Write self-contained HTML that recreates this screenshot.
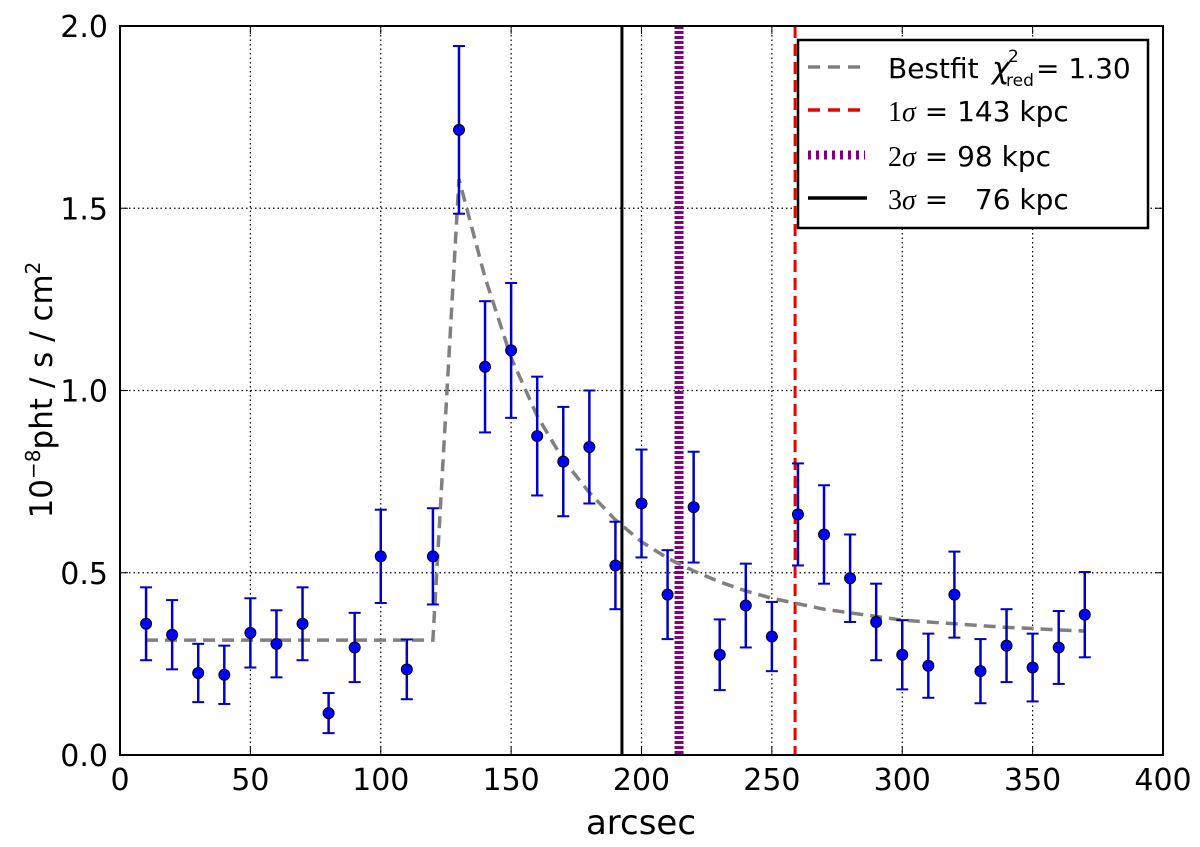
<!DOCTYPE html>
<html><head><meta charset="utf-8"><style>
body{margin:0;background:#fff;width:1200px;height:842px;overflow:hidden}
svg text{font-family:"DejaVu Sans","Liberation Sans",sans-serif;fill:#000}
</style></head><body>
<svg id="chart" width="1200" height="842" xmlns="http://www.w3.org/2000/svg"></svg>
<script>
const xs=[10,20,30,40,50,60,70,80,90,100,110,120,130,140,150,160,170,180,190,200,210,220,230,240,250,260,270,280,290,300,310,320,330,340,350,360,370];
const ys=[0.36,0.33,0.225,0.22,0.335,0.305,0.36,0.115,0.295,0.545,0.235,0.545,1.715,1.065,1.11,0.875,0.805,0.845,0.52,0.69,0.44,0.68,0.275,0.41,0.325,0.66,0.605,0.485,0.365,0.275,0.245,0.44,0.23,0.30,0.24,0.295,0.385];
const errs=[0.1,0.095,0.08,0.08,0.095,0.092,0.1,0.055,0.095,0.128,0.082,0.132,0.23,0.18,0.185,0.163,0.15,0.155,0.12,0.148,0.122,0.152,0.097,0.115,0.095,0.14,0.135,0.12,0.105,0.095,0.088,0.118,0.088,0.1,0.093,0.1,0.117];
const fitX=[10,20,30,40,50,60,70,80,90,100,110,120,130,140,150,160,170,180,190,200,210,220,230,240,250,260,270,280,290,300,310,320,330,340,350,360,370];
const fitY=[0.315,0.315,0.315,0.315,0.315,0.315,0.315,0.315,0.315,0.315,0.315,0.315,1.58,1.31,1.09,0.93,0.81,0.72,0.645,0.585,0.54,0.505,0.475,0.45,0.43,0.415,0.4,0.39,0.38,0.37,0.365,0.36,0.355,0.35,0.347,0.343,0.34];
const xTicks=[0,50,100,150,200,250,300,350,400];
const yTicks=[0,0.5,1.0,1.5,2.0];
const vlines=[192.5,214.4,258.9];
const L=120,R=1163,T=26,B=755;
const sx=v=>L+(v/400)*(R-L), sy=v=>B-(v/2)*(B-T);
const svg=document.getElementById('chart');const NS='http://www.w3.org/2000/svg';
function mk(t,a,p){const e=document.createElementNS(NS,t);for(const k in a)e.setAttribute(k,a[k]);(p||svg).appendChild(e);return e;}
xTicks.forEach(v=>{if(v>0&&v<400){const g=mk('line',{x1:sx(v),x2:sx(v),y1:T,y2:B,stroke:'#000','stroke-width':1.2,'stroke-dasharray':'1.5,3'});

}
const t=mk('text',{x:sx(v),y:790,'font-size':30,'text-anchor':'middle'});t.textContent=v;


mk('line',{x1:sx(v),x2:sx(v),y1:B,y2:B-8,stroke:'#000'});mk('line',{x1:sx(v),x2:sx(v),y1:T,y2:T+8,stroke:'#000'});});
yTicks.forEach(v=>{if(v>0&&v<2){const g=mk('line',{x1:L,x2:R,y1:sy(v),y2:sy(v),stroke:'#000','stroke-width':1.2,'stroke-dasharray':'1.5,3'});

}
const t=mk('text',{x:108,y:sy(v)+11,'font-size':30,'text-anchor':'end'});t.textContent=v.toFixed(1);


mk('line',{x1:L,x2:L+8,y1:sy(v),y2:sy(v),stroke:'#000'});mk('line',{x1:R,x2:R-8,y1:sy(v),y2:sy(v),stroke:'#000'});});
let v=mk('line',{x1:sx(vlines[0]),x2:sx(vlines[0]),y1:T,y2:B,stroke:'#000','stroke-width':3});

v=mk('line',{x1:sx(vlines[1]),x2:sx(vlines[1]),y1:T,y2:B,stroke:'#800080','stroke-width':9,'stroke-dasharray':'3,2'});

v=mk('line',{x1:sx(vlines[2]),x2:sx(vlines[2]),y1:T,y2:B,stroke:'#e00','stroke-width':3,'stroke-dasharray':'12,6'});

const fp=mk('polyline',{points:fitX.map((x,i)=>sx(x)+','+sy(fitY[i])).join(' '),fill:'none',stroke:'#808080','stroke-width':3.5,'stroke-dasharray':'12,7'});

xs.forEach((x,i)=>{const g=mk('g',{});


const X=sx(x),y1=sy(ys[i]-errs[i]),y2=sy(ys[i]+errs[i]);
mk('line',{x1:X,x2:X,y1:y1,y2:y2,stroke:'#0000cc','stroke-width':2.5},g);
mk('line',{x1:X-6,x2:X+6,y1:y1,y2:y1,stroke:'#0000cc','stroke-width':2},g);
mk('line',{x1:X-6,x2:X+6,y1:y2,y2:y2,stroke:'#0000cc','stroke-width':2},g);
mk('circle',{cx:X,cy:sy(ys[i]),r:5.5,fill:'#0000ff',stroke:'#000','stroke-width':1},g);});
const fr=mk('rect',{x:L,y:T,width:R-L,height:B-T,fill:'none',stroke:'#000','stroke-width':2});

</script>
<svg width="1200" height="842" style="position:absolute;left:0;top:0" xmlns="http://www.w3.org/2000/svg">
<text x="641" y="834" font-size="34" text-anchor="middle">arcsec</text>
<text transform="translate(52,390) rotate(-90)" font-size="31" text-anchor="middle">10<tspan dy="-12" font-size="20">−8</tspan><tspan dy="12">pht / s / cm</tspan><tspan dy="-12" font-size="20">2</tspan></text>
<g>
<rect x="798" y="40" width="350" height="188" fill="#fff" stroke="#000" stroke-width="2.5"/>
<line x1="808" x2="867" y1="67" y2="67" stroke="#808080" stroke-width="3.5" stroke-dasharray="12,8"/>
<text x="888" y="78" font-size="28">Bestfit</text>
<text x="992" y="78" font-size="30" font-family="Liberation Serif" font-style="italic">χ</text>
<text x="1006" y="86" font-size="17" font-family="Liberation Serif">red</text>
<text x="1008" y="62" font-size="17" font-family="Liberation Serif">2</text>
<text x="1036" y="78" font-size="28">= 1.30</text>
<line x1="808" x2="867" y1="110" y2="110" stroke="#e00" stroke-width="3.5" stroke-dasharray="12,8"/>
<text x="888" y="121" font-size="28"><tspan font-family="Liberation Serif">1<tspan font-style="italic">σ</tspan></tspan> = 143 kpc</text>
<line x1="808" x2="865" y1="155" y2="155" stroke="#800080" stroke-width="9" stroke-dasharray="3,5"/>
<text x="888" y="166" font-size="28"><tspan font-family="Liberation Serif">2<tspan font-style="italic">σ</tspan></tspan> = 98 kpc</text>
<line x1="808" x2="867" y1="198" y2="198" stroke="#000" stroke-width="3.5"/>
<text x="888" y="209" font-size="28" xml:space="preserve"><tspan font-family="Liberation Serif">3<tspan font-style="italic">σ</tspan></tspan> =   76 kpc</text>
</g>
</svg>
</body></html>
